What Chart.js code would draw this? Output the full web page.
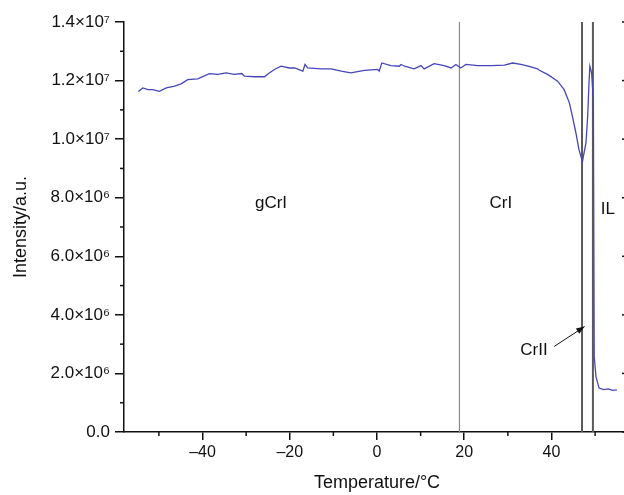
<!DOCTYPE html>
<html>
<head>
<meta charset="utf-8">
<script src="https://cdn.jsdelivr.net/npm/chart.js@4.4.1/dist/chart.umd.min.js"></script>
<style>
    html, body { margin: 0; padding: 0; background: #fff; overflow: hidden; }
    #wrap { width: 624px; height: 495px; overflow: hidden; }
    canvas { display: block; }
</style>
</head>
<body>
<div id="wrap"><canvas id="mainChart" width="640" height="495"></canvas></div>
<script>
// Temperature (degC) and intensity (x10^6 a.u.)
const temps = [-54.7, -53.7, -52.5, -51.4, -49.9, -48.3, -46.4, -44.9, -43.4, -41.1,
    -38.4, -36.5, -34.6, -32.7, -31.0, -30.4, -28.1, -25.8, -24.7, -23.5,
    -22.0, -20.1, -18.9, -17.0, -16.5, -15.9, -12.8, -10.5, -8.2, -6.0,
    -2.9, 0.15, 0.5, 1.1, 3.2, 5.1, 5.5, 6.3, 8.5, 10.1,
    10.8, 13.1, 15.4, 17.0, 18.1, 19.2, 20.4, 23.1, 26.1, 29.2,
    31.1, 33.0, 35.3, 36.8, 37.2, 39.1, 41.4, 42.9, 44.1, 44.8,
    45.6, 46.3, 47.1, 47.9, 48.3, 48.6, 48.8, 49.2, 49.6, 49.8,
    50.2, 50.9, 52, 53, 54, 55];
const intensityE6 = [11.63, 11.75, 11.69, 11.69, 11.63, 11.75, 11.81, 11.89, 12.03, 12.06,
    12.24, 12.21, 12.26, 12.21, 12.24, 12.15, 12.13, 12.13, 12.26, 12.38,
    12.49, 12.43, 12.43, 12.32, 12.55, 12.43, 12.40, 12.40, 12.32, 12.26,
    12.35, 12.38, 12.32, 12.60, 12.51, 12.49, 12.55, 12.49, 12.40, 12.51,
    12.40, 12.58, 12.51, 12.43, 12.55, 12.43, 12.55, 12.51, 12.51, 12.53,
    12.60, 12.55, 12.47, 12.40, 12.35, 12.21, 11.98, 11.69, 11.24, 10.78,
    10.21, 9.64, 9.24, 9.87, 10.78, 11.92, 12.49, 12.26, 11.35, 2.57,
    1.89, 1.50, 1.45, 1.47, 1.42, 1.44];

// phase boundaries (degC)
const boundaries = [18.9, 47.0, 49.5];

// phase names and where they sit (degC, a.u.)
const phaseNames = ['gCrI', 'CrI', 'IL', 'CrII'];
const phaseT = [-24.3, 28.4, 52.9, 36.0];
const phaseV = [7.8e6, 7.8e6, 7.6e6, 2.8e6];
// arrow pointing at CrII: [from, to]
const arrowT = [40.6, 47.6];
const arrowV = [2.92e6, 3.6e6];

// axes
const xTicks = [-40, -20, 0, 20, 40];
const xTickLabels = ['\u201340', '\u201320', '0', '20', '40'];
const xMinor = [-50, -30, -10, 10, 30, 50];
const yTicks = [0, 2e6, 4e6, 6e6, 8e6, 1e7, 1.2e7, 1.4e7];
const yTickLabels = ['0.0', '2.0\u00d710\u2076', '4.0\u00d710\u2076', '6.0\u00d710\u2076',
    '8.0\u00d710\u2076', '1.0\u00d710\u2077', '1.2\u00d710\u2077', '1.4\u00d710\u2077'];
const yMinor = [1e6, 3e6, 5e6, 7e6, 9e6, 1.1e7, 1.3e7];

const FONT = '"Liberation Sans", Arial, Helvetica, sans-serif';
const INK = '#111';

function line(ctx, x1, y1, x2, y2) {
    ctx.beginPath();
    ctx.moveTo(x1, y1);
    ctx.lineTo(x2, y2);
    ctx.stroke();
}

const extras = {
    id: 'extras',
    afterDraw(chart) {
        const { ctx, chartArea: a, scales: { x, y } } = chart;
        ctx.save();
        ctx.strokeStyle = INK;
        ctx.lineWidth = 1.5;
        // minor ticks on bottom and left
        xMinor.forEach((v) => {
            const px = x.getPixelForValue(v);
            line(ctx, px, a.bottom, px, a.bottom + 4);
        });
        yMinor.forEach((v) => {
            const py = y.getPixelForValue(v);
            line(ctx, a.left - 4, py, a.left, py);
        });
        // right axis with inward ticks
        line(ctx, a.right, a.top, a.right, a.bottom);
        yTicks.forEach((v) => {
            const py = y.getPixelForValue(v);
            line(ctx, a.right - 8, py, a.right, py);
        });
        yMinor.forEach((v) => {
            const py = y.getPixelForValue(v);
            line(ctx, a.right - 4, py, a.right, py);
        });

        // phase labels
        ctx.fillStyle = INK;
        ctx.font = '17px ' + FONT;
        ctx.textAlign = 'center';
        ctx.textBaseline = 'middle';
        phaseNames.forEach((name, i) => {
            ctx.fillText(name, x.getPixelForValue(phaseT[i]), y.getPixelForValue(phaseV[i]));
        });

        // arrow to CrII
        const x1 = x.getPixelForValue(arrowT[0]);
        const y1 = y.getPixelForValue(arrowV[0]);
        const x2 = x.getPixelForValue(arrowT[1]);
        const y2 = y.getPixelForValue(arrowV[1]);
        ctx.lineWidth = 1;
        line(ctx, x1, y1, x2, y2);
        const ang = Math.atan2(y2 - y1, x2 - x1);
        ctx.beginPath();
        ctx.moveTo(x2, y2);
        ctx.lineTo(x2 - 9 * Math.cos(ang - 0.35), y2 - 9 * Math.sin(ang - 0.35));
        ctx.lineTo(x2 - 9 * Math.cos(ang + 0.35), y2 - 9 * Math.sin(ang + 0.35));
        ctx.closePath();
        ctx.fill();
        ctx.restore();
    },
};

const boundaryColors = ['#8a8a8a', '#5a5a5a', '#5a5a5a'];
const boundaryWidths = [1.2, 2, 2];

const datasets = [
    {
        label: 'Intensity',
        data: temps.map((t, i) => ({ x: t, y: intensityE6[i] * 1e6 })),
        borderColor: '#4646b8',
        borderWidth: 1.3,
        pointRadius: 0,
        tension: 0,
    },
];
boundaries.forEach((t, i) => {
    datasets.push({
        label: 'boundary ' + i,
        data: [{ x: t, y: 0 }, { x: t, y: 1.4e7 }],
        borderColor: boundaryColors[i],
        borderWidth: boundaryWidths[i],
        pointRadius: 0,
    });
});

const ctx = document.getElementById('mainChart').getContext('2d');
const chart = new Chart(ctx, {
    type: 'line',
    data: { datasets: datasets },
    options: {
        responsive: false,
        animation: false,
        devicePixelRatio: 1,
        layout: { padding: { top: 22, right: 10, left: 0, bottom: 0 } },
        plugins: {
            legend: { display: false },
            tooltip: { enabled: false },
        },
        scales: {
            x: {
                type: 'linear',
                min: -58,
                max: 58,
                afterBuildTicks: (s) => { s.ticks = xTicks.map((v) => ({ value: v })); },
                afterFit: (s) => { s.height = 63; },
                ticks: {
                    autoSkip: false,
                    maxRotation: 0,
                    padding: 3,
                    color: INK,
                    font: { family: FONT, size: 16 },
                    callback: (v) => xTickLabels[xTicks.indexOf(v)],
                },
                grid: { drawOnChartArea: false, tickLength: 8, color: INK, lineWidth: 1.5 },
                border: { color: INK, width: 1.5 },
                title: {
                    display: true,
                    text: 'Temperature/\u00b0C',
                    color: INK,
                    font: { family: FONT, size: 18 },
                    padding: { top: 0, bottom: 1 },
                },
            },
            y: {
                min: 0,
                max: 1.4e7,
                afterBuildTicks: (s) => { s.ticks = yTicks.map((v) => ({ value: v })); },
                afterFit: (s) => { s.width = 124; },
                ticks: {
                    padding: 5,
                    color: INK,
                    font: { family: FONT, size: 17 },
                    callback: (v) => yTickLabels[yTicks.indexOf(v)],
                },
                grid: { drawOnChartArea: false, tickLength: 9, color: INK, lineWidth: 1.5 },
                border: { color: INK, width: 1.5 },
                title: {
                    display: true,
                    text: 'Intensity/a.u.',
                    color: INK,
                    font: { family: FONT, size: 18 },
                    padding: { top: 10, bottom: 0 },
                },
            },
        },
    },
    plugins: [extras],
});
</script>
</body>
</html>
